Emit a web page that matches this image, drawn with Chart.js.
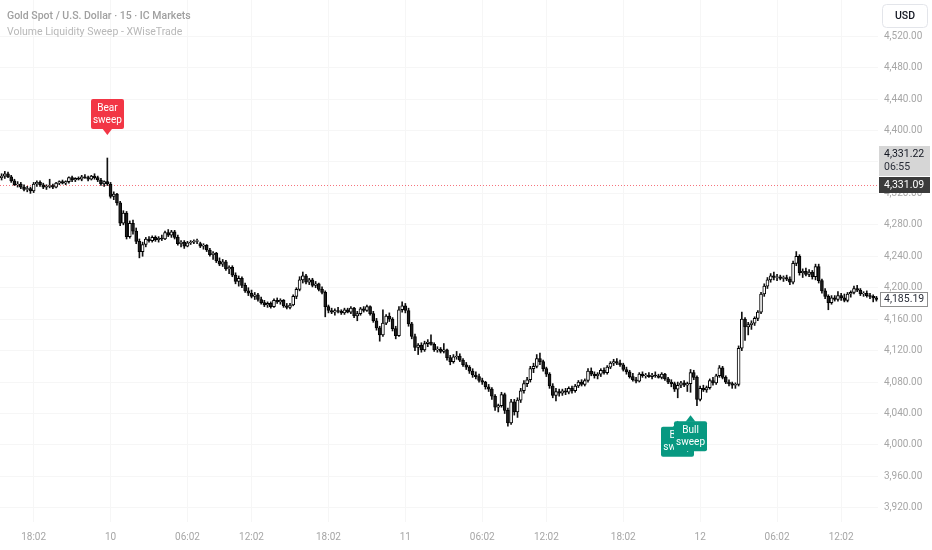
<!DOCTYPE html>
<html>
<head>
<meta charset="utf-8">
<script src="https://cdn.jsdelivr.net/npm/chart.js@4.4.1/dist/chart.umd.min.js"></script>
<style>
html,body{margin:0;padding:0;background:#ffffff;}
canvas{display:block;}
</style>
</head>
<body>
<canvas id="c" width="932" height="550"></canvas>
<script>
// ---------- DATA (15-minute XAUUSD candles) ----------
const opens = [
4340,4342,4345,4341,4336,4331,4332,4328,4325,4326,
4323,4332,4334,4331,4328,4329,4330,4328,4333,4335,
4333,4335,4340,4337,4339,4338,4341,4340,4338,4342,
4340,4337,4332,4335,4332,4316,4319,4308,4282,4295,
4265,4282,4272,4259,4246,4255,4262,4260,4264,4261,
4263,4262,4270,4267,4271,4264,4256,4258,4253,4257,
4258,4259,4256,4253,4254,4248,4242,4244,4234,4230,
4233,4224,4226,4216,4208,4212,4203,4196,4193,4189,
4191,4185,4181,4178,4180,4176,4184,4182,4184,4177,
4175,4178,4189,4198,4210,4215,4207,4210,4203,4205,
4198,4194,4176,4171,4169,4171,4170,4168,4172,4169,
4174,4164,4167,4173,4171,4176,4167,4158,4149,4140,
4155,4164,4160,4148,4139,4172,4177,4171,4154,4138,
4124,4127,4121,4129,4131,4128,4121,4122,4119,4121,
4111,4106,4112,4113,4108,4102,4099,4094,4089,4087,
4082,4080,4074,4071,4062,4048,4050,4064,4044,4028,
4055,4042,4057,4069,4078,4083,4097,4100,4110,4106,
4097,4090,4075,4063,4068,4066,4069,4067,4072,4069,
4075,4080,4077,4082,4094,4090,4088,4090,4095,4092,
4099,4104,4106,4104,4102,4096,4093,4087,4083,4081,
4090,4088,4089,4087,4089,4088,4086,4090,4084,4080,
4078,4071,4076,4079,4076,4078,4092,4086,4058,4072,
4070,4073,4082,4079,4088,4098,4086,4080,4078,4076,
4077,4123,4160,4150,4153,4155,4161,4169,4192,4202,
4210,4215,4213,4214,4212,4213,4211,4207,4231,4240,
4219,4221,4217,4220,4214,4227,4209,4196,4189,4181,
4187,4185,4190,4187,4184,4192,4194,4199,4197,4192,
4193,4190,4189,4187
];
const highs = [
4345,4348,4347,4343,4338,4335,4334,4331,4329,4328,
4334,4336,4336,4333,4331,4338,4332,4334,4336,4337,
4336,4341,4342,4340,4341,4343,4344,4342,4343,4345,
4342,4339,4336,4365,4334,4322,4320,4310,4298,4297,
4285,4286,4276,4262,4258,4264,4265,4266,4266,4265,
4267,4272,4274,4273,4273,4267,4260,4260,4259,4260,
4261,4262,4258,4256,4255,4250,4246,4245,4238,4236,
4235,4228,4228,4219,4215,4214,4206,4200,4197,4194,
4193,4188,4184,4182,4182,4186,4187,4186,4185,4180,
4180,4191,4200,4214,4220,4217,4212,4212,4208,4206,
4201,4196,4178,4174,4173,4175,4172,4174,4174,4176,
4175,4170,4175,4176,4178,4177,4170,4161,4151,4172,
4166,4168,4162,4151,4176,4182,4180,4174,4156,4141,
4129,4130,4132,4134,4140,4130,4125,4124,4129,4122,
4114,4115,4119,4116,4110,4105,4101,4097,4093,4090,
4085,4081,4077,4073,4064,4052,4067,4066,4047,4058,
4058,4060,4072,4082,4086,4100,4104,4115,4117,4108,
4099,4092,4078,4072,4071,4071,4072,4074,4075,4077,
4082,4083,4084,4097,4098,4093,4092,4097,4098,4101,
4106,4109,4110,4108,4104,4099,4095,4091,4086,4092,
4093,4091,4092,4091,4093,4090,4092,4091,4086,4083,
4080,4080,4081,4082,4080,4096,4095,4088,4075,4076,
4075,4084,4086,4090,4101,4100,4088,4083,4080,4079,
4126,4169,4162,4156,4158,4163,4171,4194,4205,4213,
4218,4220,4217,4216,4215,4216,4214,4234,4246,4242,
4224,4225,4223,4222,4230,4230,4211,4199,4191,4190,
4190,4195,4193,4192,4194,4196,4202,4203,4199,4195,
4196,4193,4191,4189
];
const lows = [
4337,4339,4340,4334,4330,4328,4326,4323,4322,4320,
4321,4329,4329,4326,4325,4327,4326,4327,4331,4332,
4331,4333,4335,4335,4337,4336,4339,4336,4337,4338,
4335,4330,4329,4330,4314,4312,4305,4279,4280,4262,
4263,4268,4256,4238,4240,4252,4258,4258,4259,4258,
4260,4261,4265,4264,4262,4254,4252,4250,4252,4255,
4256,4256,4251,4249,4246,4240,4236,4232,4228,4227,
4222,4218,4214,4205,4202,4200,4194,4190,4187,4185,
4183,4179,4176,4175,4174,4175,4180,4179,4175,4173,
4173,4177,4186,4196,4206,4205,4204,4201,4200,4196,
4192,4163,4168,4167,4165,4168,4166,4166,4168,4167,
4162,4158,4165,4169,4170,4165,4156,4146,4132,4138,
4153,4157,4145,4135,4138,4169,4168,4151,4135,4120,
4115,4118,4119,4125,4127,4119,4118,4117,4117,4108,
4102,4104,4109,4106,4100,4096,4091,4086,4084,4080,
4077,4071,4068,4058,4044,4042,4048,4040,4024,4026,
4038,4035,4054,4066,4074,4080,4092,4098,4102,4094,
4087,4072,4060,4056,4062,4063,4064,4065,4066,4067,
4073,4075,4075,4080,4088,4085,4084,4087,4090,4090,
4097,4101,4102,4100,4094,4090,4085,4081,4079,4080,
4086,4085,4086,4084,4086,4085,4084,4082,4078,4074,
4068,4060,4073,4074,4068,4067,4083,4050,4056,4068,
4067,4071,4076,4077,4086,4084,4078,4075,4072,4072,
4075,4120,4133,4140,4147,4152,4158,4167,4189,4199,
4207,4210,4209,4210,4208,4209,4204,4205,4228,4216,
4213,4215,4214,4211,4210,4206,4193,4186,4172,4179,
4183,4183,4184,4182,4182,4188,4192,4195,4190,4189,
4188,4186,4182,4183
];
const closes = [
4342,4345,4341,4336,4331,4332,4328,4325,4326,4323,
4332,4334,4331,4328,4329,4330,4328,4333,4335,4333,
4335,4340,4337,4339,4338,4341,4340,4338,4342,4340,
4337,4332,4335,4332,4316,4319,4308,4282,4295,4265,
4282,4272,4259,4246,4255,4262,4260,4264,4261,4263,
4262,4270,4267,4271,4264,4256,4258,4253,4257,4258,
4259,4260,4253,4254,4248,4242,4244,4234,4230,4233,
4224,4226,4216,4208,4212,4203,4196,4193,4189,4191,
4185,4181,4178,4180,4176,4184,4182,4184,4177,4175,
4178,4189,4198,4210,4215,4207,4210,4203,4205,4198,
4194,4176,4171,4169,4171,4170,4168,4172,4169,4174,
4164,4167,4173,4171,4176,4167,4158,4149,4140,4155,
4164,4160,4148,4139,4172,4177,4171,4154,4138,4124,
4127,4121,4129,4131,4128,4121,4122,4119,4121,4111,
4106,4112,4113,4108,4102,4099,4094,4089,4087,4082,
4080,4074,4071,4062,4048,4050,4064,4044,4028,4055,
4042,4057,4069,4078,4083,4097,4100,4110,4106,4097,
4090,4075,4063,4068,4066,4069,4067,4072,4069,4075,
4080,4077,4082,4094,4090,4088,4090,4095,4092,4099,
4104,4106,4104,4102,4096,4093,4087,4083,4081,4090,
4088,4089,4087,4089,4088,4086,4090,4084,4080,4078,
4071,4076,4079,4076,4078,4092,4086,4058,4072,4070,
4073,4082,4079,4088,4098,4086,4080,4078,4076,4077,
4123,4160,4150,4153,4155,4161,4169,4192,4202,4210,
4215,4213,4214,4212,4213,4211,4207,4231,4240,4219,
4221,4217,4220,4214,4227,4209,4196,4189,4181,4187,
4185,4190,4187,4184,4192,4194,4199,4197,4192,4193,
4190,4189,4187,4185.19
];

// time-axis tick labels (bar index -> label)
const xTickIdx  = [10, 34, 58, 78, 102, 126, 150, 170, 194, 218, 242, 262];
const xTickText = ["18:02","10","06:02","12:02","18:02","11","06:02","12:02","18:02","12","06:02","12:02"];
const dayLabels = ["10","11","12"];

// price-axis tick values
const yTickVals = [3920,3960,4000,4040,4080,4120,4160,4200,4240,4280,4320,4360,4400,4440,4480,4520];

// indicator signals (bar indices)
const bearSweepIdx = [33];
const bullSweepIdx = [211, 215];

// price lines / labels
const lastPrice = 4185.19;
const markPrice = 4331.09;
const bidPrice  = 4331.22;
const countdown = "06:55";

const titleText = "Gold Spot / U.S. Dollar \u00b7 15 \u00b7 IC Markets";
const subTitleText = "Volume Liquidity Sweep - XWiseTrade";

// ---------- build chart ----------
const FONT = "Roboto, sans-serif";
const labels = closes.map((c, i) => {
  const k = xTickIdx.indexOf(i);
  return k >= 0 ? xTickText[k] : '';
});
const bodies = closes.map((c, i) => [opens[i], c]);
const wicks = highs.map((h, i) => [lows[i], h]);
const bodyFill = closes.map((c, i) => c >= opens[i] ? '#ffffff' : '#1e1e1e');

function fmt(v) {
  return v.toLocaleString('en-US', {minimumFractionDigits: 2, maximumFractionDigits: 2});
}

function rrect(ctx, x, y, w, h, r) {
  ctx.beginPath();
  ctx.moveTo(x + r, y);
  ctx.lineTo(x + w - r, y);
  ctx.quadraticCurveTo(x + w, y, x + w, y + r);
  ctx.lineTo(x + w, y + h - r);
  ctx.quadraticCurveTo(x + w, y + h, x + w - r, y + h);
  ctx.lineTo(x + r, y + h);
  ctx.quadraticCurveTo(x, y + h, x, y + h - r);
  ctx.lineTo(x, y + r);
  ctx.quadraticCurveTo(x, y, x + r, y);
  ctx.closePath();
}

function sweepLabel(ctx, x, tipY, dir, color, l1, l2) {
  const w = 33, h = 30, ah = 6, aw = 5;
  const top = dir === 'down' ? tipY - ah - h : tipY + ah;
  ctx.fillStyle = color;
  rrect(ctx, Math.round(x - w / 2), top, w, h, 2);
  ctx.fill();
  ctx.beginPath();
  if (dir === 'down') {
    ctx.moveTo(x - aw, top + h - 0.5); ctx.lineTo(x + aw, top + h - 0.5); ctx.lineTo(x, tipY);
  } else {
    ctx.moveTo(x - aw, top + 0.5); ctx.lineTo(x + aw, top + 0.5); ctx.lineTo(x, tipY);
  }
  ctx.closePath();
  ctx.fill();
  ctx.fillStyle = '#ffffff';
  ctx.font = "10px " + FONT;
  ctx.textAlign = 'center';
  ctx.textBaseline = 'middle';
  ctx.fillText(l1, x, top + h / 2 - 6);
  ctx.fillText(l2, x, top + h / 2 + 6);
}

const overlay = {
  id: 'overlay',
  beforeDatasetsDraw(chart) {
    const ctx = chart.ctx, y = chart.scales.y, a = chart.chartArea;
    const py = Math.round(y.getPixelForValue(markPrice)) + 0.5;
    ctx.save();
    ctx.strokeStyle = 'rgba(242,54,69,0.7)';
    ctx.lineWidth = 1;
    ctx.setLineDash([1, 2]);
    ctx.beginPath();
    ctx.moveTo(a.left, py);
    ctx.lineTo(a.right, py);
    ctx.stroke();
    ctx.restore();
  },
  afterDatasetsDraw(chart) {
    const ctx = chart.ctx, xs = chart.scales.x, ys = chart.scales.y;
    ctx.save();
    bearSweepIdx.forEach(i => {
      const x = xs.getPixelForValue(i);
      const tip = ys.getPixelForValue(highs[i]) - 23;
      sweepLabel(ctx, x, tip, 'down', '#f23645', 'Bear', 'sweep');
    });
    bullSweepIdx.forEach(i => {
      const x = xs.getPixelForValue(i);
      const tip = ys.getPixelForValue(lows[i]) + 23;
      sweepLabel(ctx, x, tip, 'up', '#089981', 'Bull', 'sweep');
    });
    ctx.restore();
  },
  afterDraw(chart) {
    const ctx = chart.ctx, ys = chart.scales.y, a = chart.chartArea;
    const W = chart.width;
    ctx.save();
    // legend texts
    ctx.textAlign = 'left';
    ctx.textBaseline = 'middle';
    ctx.fillStyle = '#a0a0a0';
    ctx.font = "500 10.5px " + FONT;
    ctx.fillText(titleText, 7, 16);
    ctx.fillStyle = '#b8b8b8';
    ctx.font = "10.5px " + FONT;
    ctx.fillText(subTitleText, 7, 32);

    // USD button
    ctx.strokeStyle = '#e3e5ea';
    ctx.lineWidth = 1;
    ctx.fillStyle = '#ffffff';
    rrect(ctx, 882.5, 4.5, 45, 23, 4);
    ctx.fill(); ctx.stroke();
    ctx.fillStyle = '#131722';
    ctx.font = "500 10.5px " + FONT;
    ctx.textAlign = 'center';
    ctx.fillText('USD', 905, 16.5);

    // mark price (dark) + bid/countdown (grey)
    const my = ys.getPixelForValue(markPrice);
    const bx = a.right + 1;
    const dTop = Math.round(my - 8);
    ctx.fillStyle = '#3b3b3b';
    ctx.fillRect(bx, dTop, W - bx - 2, 16);
    ctx.fillStyle = '#d6d6d6';
    ctx.fillRect(bx, dTop - 31, W - bx - 2, 30);
    ctx.textAlign = 'left';
    ctx.font = "10.5px " + FONT;
    ctx.fillStyle = '#ffffff';
    ctx.fillText(fmt(markPrice), 884, my + 0.5);
    ctx.fillStyle = '#131722';
    ctx.fillText(fmt(bidPrice), 884, dTop - 23);
    ctx.fillStyle = '#2a2e39';
    ctx.fillText(countdown, 884, dTop - 10);

    // last price box
    const ly = ys.getPixelForValue(lastPrice);
    ctx.fillStyle = '#ffffff';
    ctx.strokeStyle = '#8f8f8f';
    ctx.fillRect(bx + 1.5, Math.round(ly - 7) + 0.5, 47, 14);
    ctx.strokeRect(bx + 1.5, Math.round(ly - 7) + 0.5, 47, 14);
    ctx.fillStyle = '#2a2e39';
    ctx.fillText(fmt(lastPrice), 884, ly + 0.5);
    ctx.restore();
  }
};

new Chart(document.getElementById('c'), {
  type: 'bar',
  data: {
    labels: labels,
    datasets: [
      {
        label: 'body',
        data: bodies,
        backgroundColor: bodyFill,
        borderColor: '#000000',
        borderWidth: 1,
        borderSkipped: false,
        barThickness: 3,
        grouped: false,
        order: 1
      },
      {
        label: 'wick',
        data: wicks,
        backgroundColor: '#111111',
        borderWidth: 0,
        barThickness: 1,
        grouped: false,
        order: 2
      }
    ]
  },
  options: {
    responsive: false,
    animation: false,
    devicePixelRatio: 1,
    layout: { padding: 0 },
    plugins: { legend: { display: false }, tooltip: { enabled: false } },
    scales: {
      x: {
        type: 'category',
        offset: true,
        border: { display: false },
        grid: { offset: false, color: '#f6f6f6', drawTicks: false },
        ticks: {
          autoSkip: false,
          maxRotation: 0,
          padding: 9,
          color: '#a6a6a6',
          font: (c) => ({ family: FONT, size: 10, weight: dayLabels.includes(labels[c.index]) ? 'bold' : 'normal' }),
          callback: (v, i) => labels[i] || null
        },
        afterFit: (s) => { s.height = 28; s.paddingLeft = 0; s.paddingRight = 0; }
      },
      y: {
        position: 'right',
        min: 3902,
        max: 4566,
        border: { display: false },
        grid: { color: '#f6f6f6', drawTicks: false },
        afterBuildTicks: (s) => { s.ticks = yTickVals.map(v => ({ value: v })); },
        ticks: {
          crossAlign: 'near',
          padding: 6,
          color: '#a6a6a6',
          font: { family: FONT, size: 10 },
          callback: (v) => fmt(v)
        },
        afterFit: (s) => { s.width = 54; s.paddingTop = 0; s.paddingBottom = 0; }
      }
    }
  },
  plugins: [overlay]
});
</script>
</body>
</html>
